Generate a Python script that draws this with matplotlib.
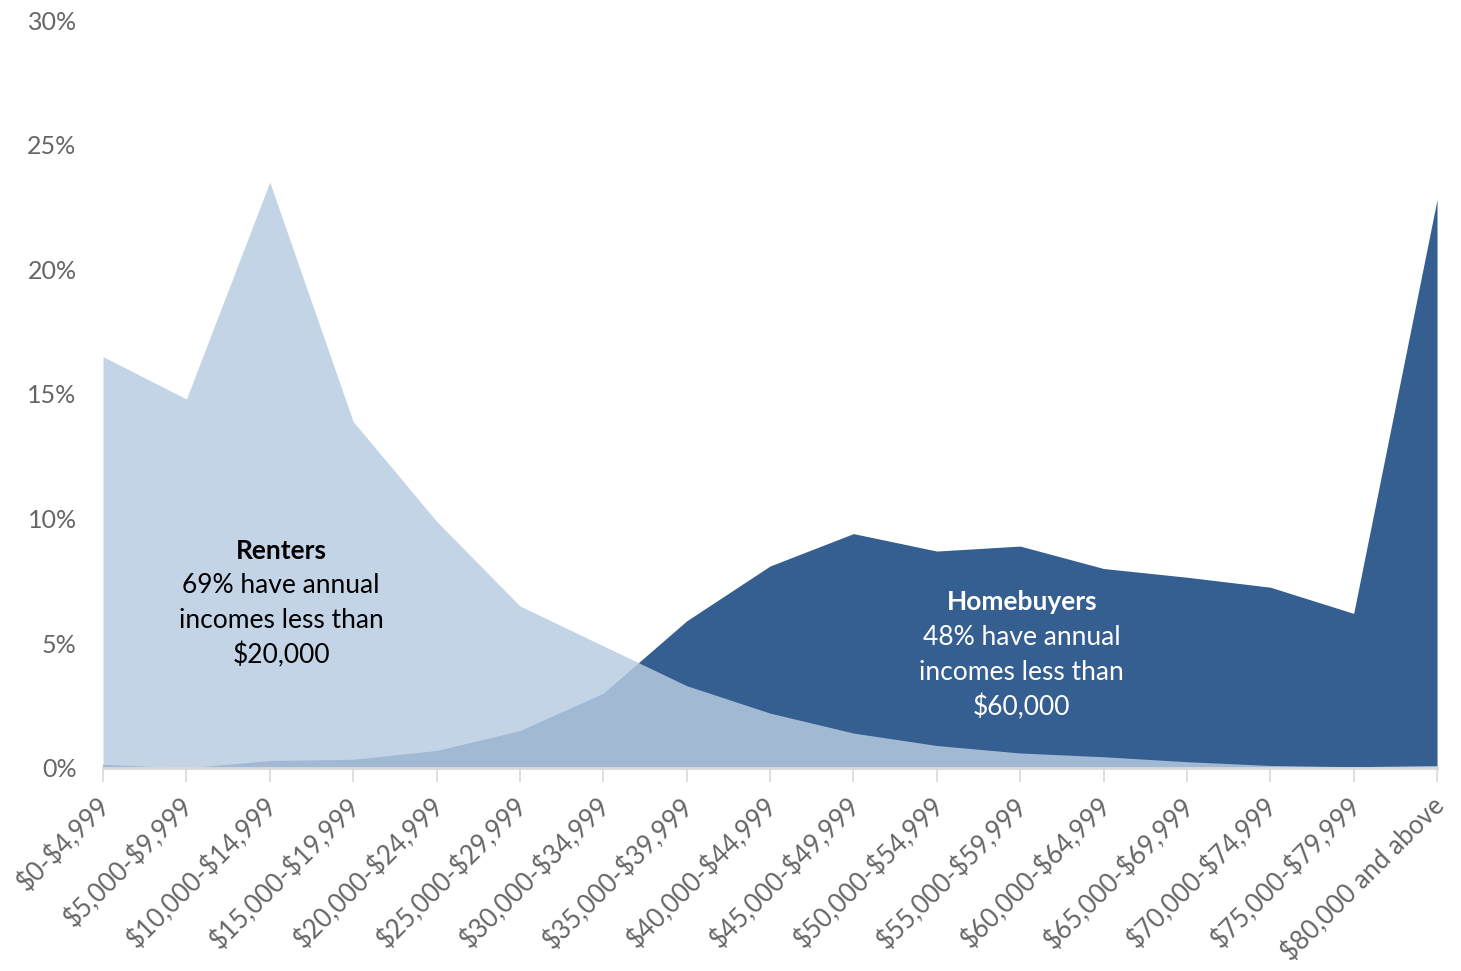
import numpy as np
import matplotlib.pyplot as plt
import matplotlib.transforms as mtransforms
from matplotlib.ticker import PercentFormatter

categories = ["$0-$4,999", "$5,000-$9,999", "$10,000-$14,999", "$15,000-$19,999",
              "$20,000-$24,999", "$25,000-$29,999", "$30,000-$34,999", "$35,000-$39,999",
              "$40,000-$44,999", "$45,000-$49,999", "$50,000-$54,999", "$55,000-$59,999",
              "$60,000-$64,999", "$65,000-$69,999", "$70,000-$74,999", "$75,000-$79,999",
              "$80,000 and above"]

# percent of households in each income band
renters = [16.5, 14.8, 23.5, 13.9, 9.9, 6.5, 4.9, 3.3, 2.2, 1.4, 0.9, 0.6, 0.45, 0.25, 0.1, 0.05, 0.1]
homebuyers = [0.15, 0.0, 0.3, 0.35, 0.7, 1.5, 3.0, 5.9, 8.1, 9.4, 8.7, 8.9, 8.0, 7.65, 7.25, 6.2, 22.8]

plt.rcParams['font.family'] = ['Lato', 'DejaVu Sans']
plt.rcParams['text.parse_math'] = False

fig = plt.figure(figsize=(14.61, 9.71), dpi=100)
ax = fig.add_axes([0.0705, 0.2091, 0.9131, 0.7703])

x = np.arange(len(categories))
ax.fill_between(x, homebuyers, color='#365f91', linewidth=0, zorder=2)
ax.fill_between(x, renters, color='#b9cce3', alpha=0.83, linewidth=0, zorder=3)

ax.set_xlim(0, len(categories) - 1)
ax.set_ylim(0, 30)
ax.set_yticks(np.arange(0, 31, 5))
ax.yaxis.set_major_formatter(PercentFormatter(decimals=0))
ax.tick_params(axis='y', length=0, pad=19, labelsize=18, labelcolor='#666666')

ax.set_xticks(x)
ax.set_xticklabels(categories, rotation=45, ha='right', rotation_mode='anchor')
ax.tick_params(axis='x', length=10, width=1.2, color='#d9d9d9', direction='out',
               pad=8, labelsize=18.5, labelcolor='#666666')
shift = mtransforms.ScaledTranslation(-6 / 100, 0, fig.dpi_scale_trans)
for lbl in ax.get_xticklabels():
    lbl.set_transform(lbl.get_transform() + shift)

for s in ['top', 'right', 'left']:
    ax.spines[s].set_visible(False)
ax.spines['bottom'].set_color('#d9d9d9')
ax.spines['bottom'].set_linewidth(2)
ax.spines['bottom'].set_zorder(4)

renter_lines = ["69% have annual", "incomes less than", "$20,000"]
buyer_lines = ["48% have annual", "incomes less than", "$60,000"]

ax.text(2.135, 8.72, "Renters", ha='center', va='center', fontsize=19, fontweight='bold',
        color='black', zorder=5)
for i, line in enumerate(renter_lines):
    ax.text(2.135, 7.32 - 1.405 * i, line, ha='center', va='center', fontsize=19,
            color='black', zorder=5)

ax.text(11.02, 6.64, "Homebuyers", ha='center', va='center', fontsize=19, fontweight='bold',
        color='white', zorder=5)
for i, line in enumerate(buyer_lines):
    ax.text(11.02, 5.23 - 1.405 * i, line, ha='center', va='center', fontsize=19,
            color='white', zorder=5)

fig.savefig('out.png', dpi=100)
